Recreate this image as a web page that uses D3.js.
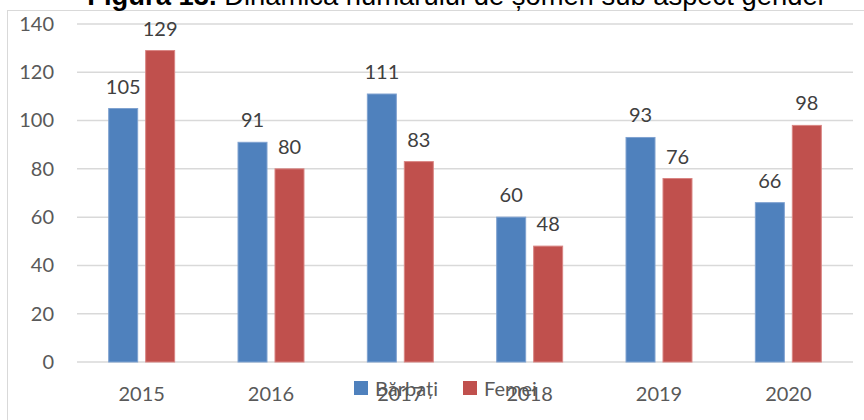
<!DOCTYPE html>
<html><head><meta charset="utf-8">
<script src="https://cdn.jsdelivr.net/npm/d3@7"></script>
<style>body{margin:0;background:#fff;} svg{display:block;}</style>
</head><body>
<svg id="c" width="864" height="420"></svg>
<script>
const categories = ["2015","2016","2017","2018","2019","2020"];
const seriesNames = ["Bărbați","Femei"];
const barbati = [105, 91, 111, 60, 93, 66];
const femei = [129, 80, 83, 48, 76, 98];
const yTicks = [0,20,40,60,80,100,120,140];
const colors = ["#4F81BD","#C0504D"];
const strokeColors = ["#7FA2D0","#D98583"];

const svg = d3.select("#c");
const font = "Lato, 'Open Sans', sans-serif";
const fs = 20;

// frame
svg.append("rect").attr("x",7.5).attr("y",10.5).attr("width",900).attr("height",500)
  .attr("fill","none").attr("stroke","#d9d9d9").attr("stroke-width",1);

// title (clipped at top)
const title = svg.append("text").attr("x",457).attr("y",5).attr("text-anchor","middle")
  .attr("font-family","Arial, 'Liberation Sans', sans-serif").attr("font-size",22).attr("fill","#000");
title.append("tspan").attr("font-weight","bold").text("Figura 13.");
title.append("tspan").text(" Dinamica numărului de șomeri sub aspect gender");
const tw = title.node().getComputedTextLength();
title.attr("font-size", 22*740/tw);

const y = d3.scaleLinear().domain([0,140]).range([362,24]);
const x0 = d3.scaleBand().domain(categories).range([77,853]).paddingInner(0.49).paddingOuter(0.245);
const x1 = d3.scaleBand().domain(seriesNames).range([0,x0.bandwidth()]).paddingInner(0.216);

// gridlines
svg.append("g").selectAll("line").data(yTicks).join("line")
  .attr("x1",77).attr("x2",853).attr("y1",d=>y(d)).attr("y2",d=>y(d))
  .attr("stroke","#d9d9d9").attr("stroke-width",1.5);

// y axis labels
const yAxis = d3.axisLeft(y).tickValues(yTicks).tickSize(0).tickPadding(0);
const gy = svg.append("g").attr("transform","translate(54,0)").call(yAxis);
gy.select(".domain").remove();
gy.selectAll("text").attr("font-family",font).attr("font-size",fs).attr("fill","#595959");

// x axis labels
const xAxis = d3.axisBottom(x0).tickSize(0).tickPadding(0);
const gx = svg.append("g").attr("transform","translate(0,387)").call(xAxis);
gx.select(".domain").remove();
gx.selectAll("text").attr("font-family",font).attr("font-size",fs).attr("fill","#595959");

const data = categories.map((c,i)=>({cat:c, vals:[barbati[i], femei[i]]}));
const groups = svg.append("g").selectAll("g").data(data).join("g")
  .attr("transform",d=>`translate(${x0(d.cat)},0)`);
groups.selectAll("rect").data(d=>d.vals.map((v,j)=>({s:seriesNames[j],v,j}))).join("rect")
  .attr("x",d=>x1(d.s)).attr("width",x1.bandwidth())
  .attr("y",d=>y(d.v)).attr("height",d=>y(0)-y(d.v))
  .attr("fill",d=>colors[d.j]).attr("stroke",d=>strokeColors[d.j]).attr("stroke-width",1);
groups.selectAll("text.lbl").data(d=>d.vals.map((v,j)=>({s:seriesNames[j],v,j}))).join("text")
  .attr("class","lbl")
  .attr("x",d=>x1(d.s)+x1.bandwidth()/2).attr("y",d=>y(d.v)-15)
  .attr("text-anchor","middle").attr("font-family",font).attr("font-size",fs).attr("fill","#404040")
  .text(d=>d.v);

// legend
const legX = [354, 463];
const leg = svg.append("g").selectAll("g").data(seriesNames).join("g")
  .attr("transform",(d,i)=>`translate(${legX[i]},381)`);
leg.append("rect").attr("width",14).attr("height",14).attr("fill",(d,i)=>colors[i]);
leg.append("text").attr("x",21).attr("y",15).attr("font-family",font).attr("font-size",fs)
  .attr("fill","#595959").text(d=>d);
</script>
</body></html>
